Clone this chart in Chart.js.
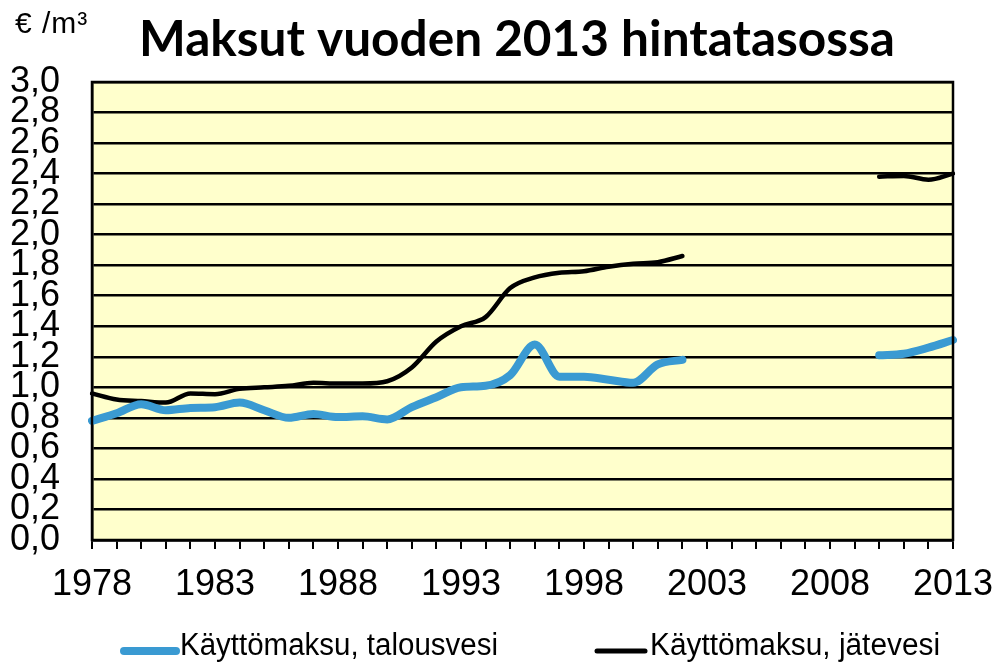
<!DOCTYPE html>
<html>
<head>
<meta charset="utf-8">
<style>
  html, body { margin: 0; padding: 0; background: #fff; }
  #wrap { width: 999px; height: 665px; }
</style>
<script src="https://cdn.jsdelivr.net/npm/chart.js@4.4.1/dist/chart.umd.min.js"></script>
</head>
<body>
<div id="wrap"><canvas id="maksut" width="999" height="665"></canvas></div>
<script>
// years 1978..2013, no data for 2003-2009
const years = [];
for (let y = 1978; y <= 2013; y++) years.push(String(y));

const talousvesi = [
  0.78, 0.83, 0.89, 0.85, 0.865, 0.87, 0.90, 0.85, 0.80, 0.825,
  0.805, 0.81, 0.79, 0.87, 0.935, 1.00, 1.01, 1.08, 1.28, 1.07,
  1.07, 1.05, 1.03, 1.15, 1.18,
  null, null, null, null, null, null, null,
  1.21, 1.22, 1.26, 1.31
];

const jatevesi = [
  0.96, 0.92, 0.91, 0.90, 0.96, 0.955, 0.99, 1.00, 1.01, 1.03,
  1.025, 1.025, 1.04, 1.13, 1.30, 1.40, 1.46, 1.65, 1.72, 1.75,
  1.76, 1.79, 1.81, 1.82, 1.86,
  null, null, null, null, null, null, null,
  2.38, 2.385, 2.36, 2.40
];

const seriesNames = ['Käyttömaksu, talousvesi', 'Käyttömaksu, jätevesi'];
const seriesColors = ['#3A9AD2', '#000000'];
const titleText = 'Maksut vuoden 2013 hintatasossa';
const unitText = '€ /m³';

// background of plot area, frame, title, unit and legend
const plotFrame = {
  id: 'plotFrame',
  beforeDraw(chart) {
    const { ctx, chartArea: a } = chart;
    ctx.save();
    ctx.fillStyle = '#FFFFCC';
    ctx.fillRect(a.left, a.top, a.right - a.left, a.bottom - a.top);
    ctx.restore();
  },
  afterDraw(chart) {
    const { ctx, chartArea: a } = chart;
    ctx.save();
    ctx.strokeStyle = '#000';
    ctx.lineWidth = 2.5;
    ctx.strokeRect(a.left, a.top, a.right - a.left, a.bottom - a.top);

    // title and unit
    ctx.fillStyle = '#000';
    ctx.textBaseline = 'alphabetic';
    ctx.textAlign = 'center';
    ctx.font = 'bold 50px Lato, "Open Sans", sans-serif';
    ctx.fillText(titleText, 517, 56, 756);
    ctx.textAlign = 'left';
    ctx.font = '30px "Liberation Sans", Arial, sans-serif';
    ctx.letterSpacing = '1px';
    ctx.fillText(unitText, 15, 33);
    ctx.letterSpacing = '0px';

    // legend
    const items = [
      { x: 124, w: 52, textX: 180, maxW: 318 },
      { x: 597, w: 48, textX: 650, maxW: 290 }
    ];
    chart.data.datasets.forEach((ds, i) => {
      const it = items[i];
      ctx.strokeStyle = ds.borderColor;
      ctx.lineWidth = i === 0 ? 8 : 5;
      ctx.lineCap = 'round';
      ctx.beginPath();
      ctx.moveTo(it.x, 651);
      ctx.lineTo(it.x + it.w, 651);
      ctx.stroke();
      ctx.fillStyle = '#000';
      ctx.font = '31px "Liberation Sans Narrow", "Liberation Sans", Arial, sans-serif';
      ctx.fillText(ds.label, it.textX, 655, it.maxW);
    });
    ctx.restore();
  }
};

new Chart(document.getElementById('maksut'), {
  type: 'line',
  data: {
    labels: years,
    datasets: [
      {
        label: seriesNames[0],
        data: talousvesi,
        borderColor: seriesColors[0],
        borderWidth: 8,
        pointRadius: 0,
        cubicInterpolationMode: 'monotone',
        spanGaps: false,
        borderCapStyle: 'round',
        borderJoinStyle: 'round'
      },
      {
        label: seriesNames[1],
        data: jatevesi,
        borderColor: seriesColors[1],
        borderWidth: 4.5,
        pointRadius: 0,
        cubicInterpolationMode: 'monotone',
        spanGaps: false,
        borderCapStyle: 'round',
        borderJoinStyle: 'round'
      }
    ]
  },
  options: {
    responsive: false,
    animation: false,
    layout: { padding: { top: 82, left: 0, right: 46, bottom: 60 } },
    plugins: {
      legend: { display: false },
      title: { display: false },
      tooltip: { enabled: false }
    },
    scales: {
      x: {
        type: 'category',
        offset: false,
        grid: { display: true, drawOnChartArea: false, drawTicks: true, tickLength: 9, color: '#000', lineWidth: 2 },
        border: { display: true, color: '#000', width: 2.5 },
        ticks: {
          autoSkip: false,
          maxRotation: 0,
          padding: 14,
          color: '#000',
          font: { family: '"Liberation Sans", Arial, sans-serif', size: 36 },
          callback: function (val, i) {
            const y = Number(this.getLabelForValue(val));
            return (y - 1978) % 5 === 0 ? String(y) : '';
          }
        },
        afterFit(scale) {
          scale.height = 65;
          // let the layout padding decide the right edge, not the "2013" label
          scale.paddingLeft = 0;
          scale.paddingRight = 0;
        }
      },
      y: {
        min: 0,
        max: 3,
        grid: { color: '#000', lineWidth: 2.5, drawTicks: false },
        border: { display: true, color: '#000', width: 2.5 },
        ticks: {
          stepSize: 0.2,
          autoSkip: false,
          padding: 32,
          color: '#000',
          font: { family: '"Liberation Sans", Arial, sans-serif', size: 36, lineHeight: 1 },
          callback: (v) => v.toFixed(1).replace('.', ',')
        },
        afterFit(scale) { scale.width = 92; }
      }
    }
  },
  plugins: [plotFrame]
});
</script>
</body>
</html>
